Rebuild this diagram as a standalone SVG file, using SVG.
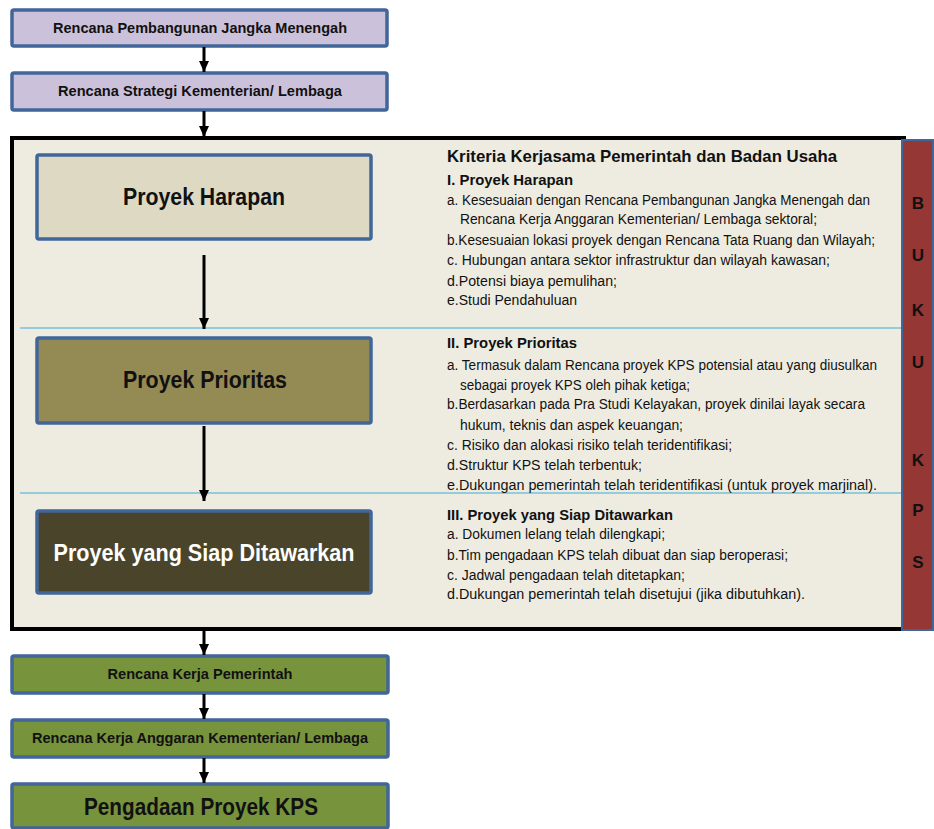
<svg xmlns="http://www.w3.org/2000/svg" width="934" height="829" viewBox="0 0 934 829">
<defs>
<marker id="ah" markerUnits="userSpaceOnUse" markerWidth="12" markerHeight="10" refX="11" refY="5" orient="auto">
<path d="M0,0 L11,5 L0,10 Z" fill="#000"/>
</marker>
<style>
.box{stroke:#41669a;stroke-width:3.5}
.t{font-family:"Liberation Sans","Arial",sans-serif;fill:#111}
.b{font-weight:bold}
.c{text-anchor:middle}
.it{font-size:14px}
.sep{stroke:#93cddd;stroke-width:1.8}
.conn line{stroke:#000;stroke-width:3;marker-end:url(#ah)}
</style>
</defs>
<rect width="934" height="829" fill="#fff"/>

<g id="frame">
<rect x="12" y="138" width="892" height="491" fill="#eeece1" stroke="#000" stroke-width="4"/>
<line class="sep" x1="20" y1="328" x2="904" y2="328"/>
<line class="sep" x1="20" y1="493" x2="904" y2="493"/>
</g>

<g id="side">
<rect x="902" y="140" width="31" height="490" fill="#953735" stroke="#41669a" stroke-width="2"/>
<g class="t b c" font-size="17">
<text x="918" y="209">B</text>
<text x="918" y="261">U</text>
<text x="918" y="316">K</text>
<text x="918" y="368">U</text>
<text x="918" y="466">K</text>
<text x="918" y="516">P</text>
<text x="918" y="568">S</text>
</g>
</g>

<g id="n1">
<rect class="box" x="12" y="10" width="375" height="36" rx="2" fill="#ccc1da"/>
<text class="t b c" x="200" y="33" font-size="14.5" textLength="294" lengthAdjust="spacingAndGlyphs">Rencana Pembangunan Jangka Menengah</text>
</g>
<g id="n2">
<rect class="box" x="12" y="73" width="375" height="37" rx="2" fill="#ccc1da"/>
<text class="t b c" x="200" y="96" font-size="14.5" textLength="284" lengthAdjust="spacingAndGlyphs">Rencana Strategi Kementerian/ Lembaga</text>
</g>
<g id="n3">
<rect class="box" x="37" y="155" width="334" height="84" rx="2" fill="#ddd9c3"/>
<text class="t b c" x="204" y="205" font-size="23" textLength="162" lengthAdjust="spacingAndGlyphs">Proyek Harapan</text>
</g>
<g id="n4">
<rect class="box" x="37" y="338" width="334" height="85" rx="2" fill="#948a54"/>
<text class="t b c" x="205" y="388" font-size="23" textLength="164" lengthAdjust="spacingAndGlyphs">Proyek Prioritas</text>
</g>
<g id="n5">
<rect class="box" x="37" y="511" width="334" height="82" rx="2" fill="#4a452a"/>
<text class="t b c" x="204" y="561" font-size="23" style="fill:#fff" textLength="301" lengthAdjust="spacingAndGlyphs">Proyek yang Siap Ditawarkan</text>
</g>
<g id="n6">
<rect class="box" x="12" y="656" width="376" height="37" rx="2" fill="#77933c"/>
<text class="t b c" x="200" y="679" font-size="14.5" textLength="185" lengthAdjust="spacingAndGlyphs">Rencana Kerja Pemerintah</text>
</g>
<g id="n7">
<rect class="box" x="12" y="720" width="376" height="37" rx="2" fill="#77933c"/>
<text class="t b c" x="200" y="743" font-size="14.5" textLength="336" lengthAdjust="spacingAndGlyphs">Rencana Kerja Anggaran Kementerian/ Lembaga</text>
</g>
<g id="n8">
<rect class="box" x="12" y="784" width="376" height="44" rx="2" fill="#77933c"/>
<text class="t b c" x="201" y="815" font-size="23" textLength="234" lengthAdjust="spacingAndGlyphs">Pengadaan Proyek KPS</text>
</g>

<g id="criteria" class="t">
<text class="b" x="447" y="162" font-size="17" textLength="390" lengthAdjust="spacingAndGlyphs">Kriteria Kerjasama Pemerintah dan Badan Usaha</text>
<text class="b" x="447" y="185" font-size="15" textLength="126" lengthAdjust="spacingAndGlyphs">I. Proyek Harapan</text>
<text class="it" x="447" y="205" textLength="423" lengthAdjust="spacingAndGlyphs">a. Kesesuaian dengan Rencana Pembangunan Jangka Menengah dan</text>
<text class="it" x="460" y="224" textLength="357" lengthAdjust="spacingAndGlyphs">Rencana Kerja Anggaran Kementerian/ Lembaga sektoral;</text>
<text class="it" x="447" y="245" textLength="428" lengthAdjust="spacingAndGlyphs">b.Kesesuaian lokasi proyek dengan Rencana Tata Ruang dan Wilayah;</text>
<text class="it" x="447" y="265" textLength="383" lengthAdjust="spacingAndGlyphs">c. Hubungan antara sektor infrastruktur dan wilayah kawasan;</text>
<text class="it" x="447" y="286" textLength="170" lengthAdjust="spacingAndGlyphs">d.Potensi biaya pemulihan;</text>
<text class="it" x="447" y="305" textLength="130" lengthAdjust="spacingAndGlyphs">e.Studi Pendahuluan</text>

<text class="b" x="447" y="348" font-size="15" textLength="130" lengthAdjust="spacingAndGlyphs">II. Proyek Prioritas</text>
<text class="it" x="447" y="370" textLength="430" lengthAdjust="spacingAndGlyphs">a. Termasuk dalam Rencana proyek KPS potensial atau yang diusulkan</text>
<text class="it" x="460" y="390" textLength="230" lengthAdjust="spacingAndGlyphs">sebagai proyek KPS oleh pihak ketiga;</text>
<text class="it" x="447" y="409" textLength="418" lengthAdjust="spacingAndGlyphs">b.Berdasarkan pada Pra Studi Kelayakan, proyek dinilai layak secara</text>
<text class="it" x="460" y="430" textLength="223" lengthAdjust="spacingAndGlyphs">hukum, teknis dan aspek keuangan;</text>
<text class="it" x="447" y="450" textLength="285" lengthAdjust="spacingAndGlyphs">c. Risiko dan alokasi risiko telah teridentifikasi;</text>
<text class="it" x="447" y="470" textLength="195" lengthAdjust="spacingAndGlyphs">d.Struktur KPS telah terbentuk;</text>
<text class="it" x="447" y="490" textLength="430" lengthAdjust="spacingAndGlyphs">e.Dukungan pemerintah telah teridentifikasi (untuk proyek marjinal).</text>

<text class="b" x="447" y="520" font-size="15" textLength="226" lengthAdjust="spacingAndGlyphs">III. Proyek yang Siap Ditawarkan</text>
<text class="it" x="447" y="539" textLength="218" lengthAdjust="spacingAndGlyphs">a. Dokumen lelang telah dilengkapi;</text>
<text class="it" x="447" y="560" textLength="341" lengthAdjust="spacingAndGlyphs">b.Tim pengadaan KPS telah dibuat dan siap beroperasi;</text>
<text class="it" x="447" y="580" textLength="238" lengthAdjust="spacingAndGlyphs">c. Jadwal pengadaan telah ditetapkan;</text>
<text class="it" x="447" y="599" textLength="358" lengthAdjust="spacingAndGlyphs">d.Dukungan pemerintah telah disetujui (jika dibutuhkan).</text>
</g>

<g id="connectors" class="conn">
<line x1="204" y1="47" x2="204" y2="72"/>
<line x1="204" y1="111" x2="204" y2="137"/>
<line x1="204" y1="255" x2="204" y2="329"/>
<line x1="204" y1="426" x2="204" y2="501"/>
<line x1="204" y1="631" x2="204" y2="655"/>
<line x1="204" y1="694" x2="204" y2="719"/>
<line x1="204" y1="758" x2="204" y2="783"/>
</g>
</svg>
